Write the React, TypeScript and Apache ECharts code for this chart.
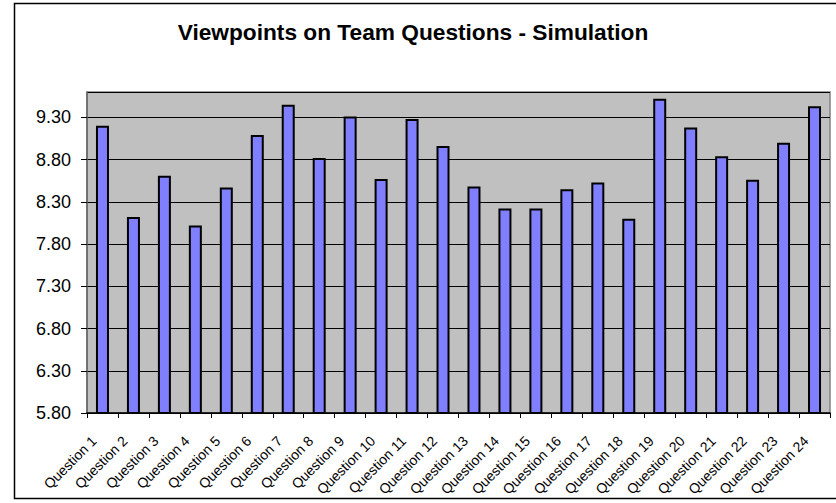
import React, { useEffect, useRef } from "react";
import * as echarts from "echarts";

const titleText = "Viewpoints on Team Questions - Simulation";
const categories = [
  "Question 1", "Question 2", "Question 3", "Question 4", "Question 5", "Question 6",
  "Question 7", "Question 8", "Question 9", "Question 10", "Question 11", "Question 12",
  "Question 13", "Question 14", "Question 15", "Question 16", "Question 17", "Question 18",
  "Question 19", "Question 20", "Question 21", "Question 22", "Question 23", "Question 24",
];
const values = [
  9.2, 8.12, 8.61, 8.02, 8.47, 9.09, 9.45, 8.82, 9.31, 8.57, 9.28, 8.96,
  8.48, 8.22, 8.22, 8.45, 8.53, 8.1, 9.52, 9.18, 8.84, 8.56, 9.0, 9.43,
];
const yMin = 5.8;
const yMax = 9.6;
const yStep = 0.5;

const FONT = "'Liberation Sans', Arial, sans-serif";

export default function App() {
  const ref = useRef<HTMLDivElement>(null);
  useEffect(() => {
    if (!ref.current) return;
    const chart = echarts.init(ref.current, null, { renderer: "svg" });
    chart.setOption({
      animation: false,
      backgroundColor: "#ffffff",
      title: {
        text: titleText,
        left: 408,
        top: 15,
        textAlign: "center",
        textStyle: { fontFamily: FONT, fontSize: 22.7, fontWeight: "bold", color: "#000" },
      },
      graphic: [
        {
          type: "rect",
          z: -1,
          shape: { x: 14.5, y: 3.5, width: 830, height: 495 },
          style: { fill: "none", stroke: "#000", lineWidth: 1.5 },
          silent: true,
        },
      ],
      grid: {
        left: 87,
        right: 6,
        top: 92,
        bottom: 90,
        show: true,
        backgroundColor: "#C0C0C0",
        borderColor: "#808080",
        borderWidth: 1.5,
      },
      xAxis: {
        type: "category",
        data: categories,
        axisLine: { lineStyle: { color: "#000", width: 1.5 } },
        axisTick: { show: true, length: 5, alignWithLabel: false, lineStyle: { color: "#000" } },
        axisLabel: {
          interval: 0,
          rotate: 45,
          align: "right",
          verticalAlign: "middle",
          margin: 17,
          padding: [0, 12, 0, 0],
          fontFamily: FONT,
          fontSize: 14,
          color: "#000",
        },
        splitLine: { show: false },
      },
      yAxis: {
        type: "value",
        min: yMin,
        max: yMax,
        interval: yStep,
        axisLine: { show: true, lineStyle: { color: "#666", width: 1.5 } },
        axisTick: { show: true, length: 6, lineStyle: { color: "#000" } },
        axisLabel: {
          margin: 16,
          showMaxLabel: false,
          formatter: (v: number) => v.toFixed(2),
          fontFamily: FONT,
          fontSize: 18,
          color: "#000",
        },
        splitLine: { show: true, lineStyle: { color: "#000", width: 1 } },
      },
      series: [
        {
          type: "bar",
          data: values,
          barWidth: 13,
          itemStyle: { color: "#8080FF", borderColor: "#000", borderWidth: 2 },
        },
      ],
    });
    return () => chart.dispose();
  }, []);
  return (
    <div
      ref={ref}
      style={{ position: "absolute", left: 0, top: 0, width: 836, height: 503 }}
    />
  );
}
